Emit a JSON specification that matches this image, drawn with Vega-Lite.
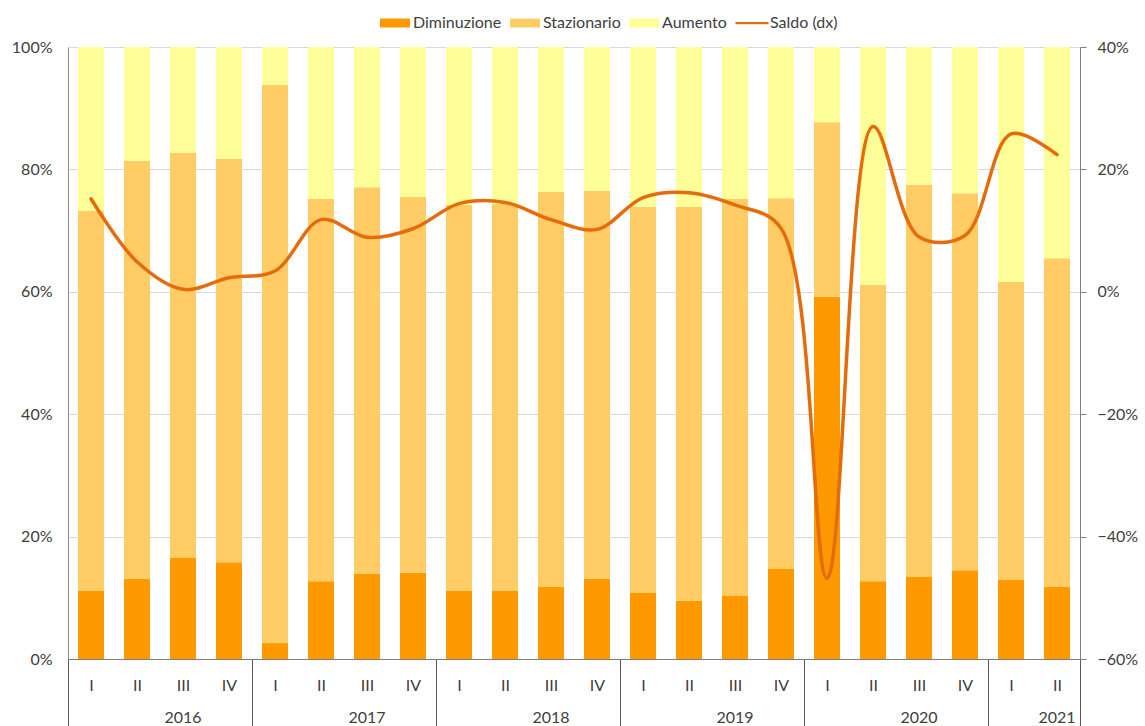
{
  "$schema": "https://vega.github.io/schema/vega-lite/v6.json",
  "autosize": {"type": "none"},
  "padding": {"left": 68, "top": 47, "right": 65, "bottom": 67},
  "width": 1012,
  "height": 612,
  "background": "white",
  "config": {
    "view": {"stroke": null},
    "font": "Lato",
    "axis": {"labelFont": "Lato", "labelFontSize": 16, "labelColor": "#404040", "titleColor": "#404040"},
    "legend": {"labelFont": "Lato", "labelFontSize": 16, "labelColor": "#404040"}
  },
  "layer": [
    {
      "data": {"values": [
      {"t": "2016 I", "serie": "Diminuzione", "v": 0.111}, {"t": "2016 I", "serie": "Stazionario", "v": 0.621}, {"t": "2016 I", "serie": "Aumento", "v": 0.268},
      {"t": "2016 II", "serie": "Diminuzione", "v": 0.131}, {"t": "2016 II", "serie": "Stazionario", "v": 0.683}, {"t": "2016 II", "serie": "Aumento", "v": 0.186},
      {"t": "2016 III", "serie": "Diminuzione", "v": 0.165}, {"t": "2016 III", "serie": "Stazionario", "v": 0.662}, {"t": "2016 III", "serie": "Aumento", "v": 0.173},
      {"t": "2016 IV", "serie": "Diminuzione", "v": 0.158}, {"t": "2016 IV", "serie": "Stazionario", "v": 0.659}, {"t": "2016 IV", "serie": "Aumento", "v": 0.183},
      {"t": "2017 I", "serie": "Diminuzione", "v": 0.026}, {"t": "2017 I", "serie": "Stazionario", "v": 0.912}, {"t": "2017 I", "serie": "Aumento", "v": 0.062},
      {"t": "2017 II", "serie": "Diminuzione", "v": 0.127}, {"t": "2017 II", "serie": "Stazionario", "v": 0.625}, {"t": "2017 II", "serie": "Aumento", "v": 0.248},
      {"t": "2017 III", "serie": "Diminuzione", "v": 0.139}, {"t": "2017 III", "serie": "Stazionario", "v": 0.632}, {"t": "2017 III", "serie": "Aumento", "v": 0.229},
      {"t": "2017 IV", "serie": "Diminuzione", "v": 0.141}, {"t": "2017 IV", "serie": "Stazionario", "v": 0.614}, {"t": "2017 IV", "serie": "Aumento", "v": 0.245},
      {"t": "2018 I", "serie": "Diminuzione", "v": 0.111}, {"t": "2018 I", "serie": "Stazionario", "v": 0.631}, {"t": "2018 I", "serie": "Aumento", "v": 0.258},
      {"t": "2018 II", "serie": "Diminuzione", "v": 0.111}, {"t": "2018 II", "serie": "Stazionario", "v": 0.633}, {"t": "2018 II", "serie": "Aumento", "v": 0.256},
      {"t": "2018 III", "serie": "Diminuzione", "v": 0.118}, {"t": "2018 III", "serie": "Stazionario", "v": 0.645}, {"t": "2018 III", "serie": "Aumento", "v": 0.237},
      {"t": "2018 IV", "serie": "Diminuzione", "v": 0.131}, {"t": "2018 IV", "serie": "Stazionario", "v": 0.634}, {"t": "2018 IV", "serie": "Aumento", "v": 0.235},
      {"t": "2019 I", "serie": "Diminuzione", "v": 0.108}, {"t": "2019 I", "serie": "Stazionario", "v": 0.631}, {"t": "2019 I", "serie": "Aumento", "v": 0.261},
      {"t": "2019 II", "serie": "Diminuzione", "v": 0.095}, {"t": "2019 II", "serie": "Stazionario", "v": 0.644}, {"t": "2019 II", "serie": "Aumento", "v": 0.261},
      {"t": "2019 III", "serie": "Diminuzione", "v": 0.103}, {"t": "2019 III", "serie": "Stazionario", "v": 0.649}, {"t": "2019 III", "serie": "Aumento", "v": 0.248},
      {"t": "2019 IV", "serie": "Diminuzione", "v": 0.147}, {"t": "2019 IV", "serie": "Stazionario", "v": 0.606}, {"t": "2019 IV", "serie": "Aumento", "v": 0.247},
      {"t": "2020 I", "serie": "Diminuzione", "v": 0.592}, {"t": "2020 I", "serie": "Stazionario", "v": 0.285}, {"t": "2020 I", "serie": "Aumento", "v": 0.123},
      {"t": "2020 II", "serie": "Diminuzione", "v": 0.127}, {"t": "2020 II", "serie": "Stazionario", "v": 0.484}, {"t": "2020 II", "serie": "Aumento", "v": 0.389},
      {"t": "2020 III", "serie": "Diminuzione", "v": 0.134}, {"t": "2020 III", "serie": "Stazionario", "v": 0.641}, {"t": "2020 III", "serie": "Aumento", "v": 0.225},
      {"t": "2020 IV", "serie": "Diminuzione", "v": 0.145}, {"t": "2020 IV", "serie": "Stazionario", "v": 0.616}, {"t": "2020 IV", "serie": "Aumento", "v": 0.239},
      {"t": "2021 I", "serie": "Diminuzione", "v": 0.129}, {"t": "2021 I", "serie": "Stazionario", "v": 0.487}, {"t": "2021 I", "serie": "Aumento", "v": 0.384},
      {"t": "2021 II", "serie": "Diminuzione", "v": 0.118}, {"t": "2021 II", "serie": "Stazionario", "v": 0.537}, {"t": "2021 II", "serie": "Aumento", "v": 0.345}
      ]},
      "transform": [
        {"calculate": "datum.serie === 'Diminuzione' ? 0 : (datum.serie === 'Stazionario' ? 1 : 2)", "as": "ord"}
      ],
      "mark": {"type": "bar"},
      "encoding": {
        "x": {
          "field": "t", "type": "ordinal",
          "scale": {"paddingInner": 0.435, "paddingOuter": 0.2175},
          "axis": {
            "title": null, "orient": "bottom",
            "tickOffset": 23,
            "labelExpr": "slice(datum.value, 5)",
            "labelAngle": 0, "labelOverlap": false, "labelOffset": -23,
            "ticks": true, "tickSize": 67, "tickColor": "#595959", "tickWidth": 1,
            "tickOpacity": {"condition": {"test": "datum.value === '2021 II'", "value": 1}, "value": 0},
            "labelPadding": -49,
            "domain": true, "domainColor": "#7f7f7f", "domainWidth": 1
          }
        },
        "y": {
          "field": "v", "type": "quantitative", "stack": "zero",
          "scale": {"domain": [0, 1]},
          "axis": {
            "title": null, "orient": "left", "values": [0, 0.2, 0.4, 0.6, 0.8, 1],
            "format": ".0%", "ticks": false, "labelPadding": 16,
            "domainColor": "#8c8c8c", "grid": true, "gridColor": "#d9d9d9", "gridWidth": 1
          }
        },
        "order": {"field": "ord", "type": "quantitative"},
        "color": {
          "field": "serie", "type": "nominal",
          "scale": {
            "domain": ["Diminuzione", "Stazionario", "Aumento", "Saldo (dx)"],
            "range": ["#ff9900", "#ffcc66", "#ffff99", "#e46c0a"]
          },
          "legend": {
            "title": null, "orient": "none", "direction": "horizontal",
            "legendX": 312, "legendY": -39,
            "symbolType": "M-1,-0.3H1V0.3H-1Z", "symbolSize": 900,
            "symbolStrokeWidth": 0, "labelOffset": 3, "columnPadding": 8,
            "encode": {
              "symbols": {
                "update": {
                  "shape": {"signal": "datum.value === 'Saldo (dx)' ? 'M-1.1,-0.075H1.1V0.075H-1.1Z' : 'M-1,-0.3H1V0.3H-1Z'"}
                }
              }
            }
          }
        }
      }
    },
    {
      "data": {"values": [
      {"t": "2016 I", "saldo": 0.152}, {"t": "2016 II", "saldo": 0.049}, {"t": "2016 III", "saldo": 0.004}, {"t": "2016 IV", "saldo": 0.023},
      {"t": "2017 I", "saldo": 0.034}, {"t": "2017 II", "saldo": 0.118}, {"t": "2017 III", "saldo": 0.089}, {"t": "2017 IV", "saldo": 0.103},
      {"t": "2018 I", "saldo": 0.144}, {"t": "2018 II", "saldo": 0.146}, {"t": "2018 III", "saldo": 0.118}, {"t": "2018 IV", "saldo": 0.102},
      {"t": "2019 I", "saldo": 0.154}, {"t": "2019 II", "saldo": 0.162}, {"t": "2019 III", "saldo": 0.142}, {"t": "2019 IV", "saldo": 0.104},
      {"t": "2020 I", "saldo": -0.468}, {"t": "2020 II", "saldo": 0.27}, {"t": "2020 III", "saldo": 0.09}, {"t": "2020 IV", "saldo": 0.092},
      {"t": "2021 I", "saldo": 0.258}, {"t": "2021 II", "saldo": 0.224}
      ]},
      "mark": {"type": "line", "interpolate": "catmull-rom", "strokeWidth": 3.5, "strokeCap": "round", "color": "#e46c0a"},
      "encoding": {
        "x": {
          "field": "t", "type": "ordinal",
          "axis": {
            "title": null, "orient": "bottom",
            "bandPosition": -0.3846,
            "labelExpr": "(slice(datum.value, 5) === 'III' || datum.value === '2021 II') ? slice(datum.value, 0, 4) : ''",
            "labelAngle": 0, "labelOverlap": false,
            "domain": false,
            "ticks": true, "tickSize": 67, "tickColor": "#595959", "tickWidth": 1,
            "tickOpacity": {"condition": {"test": "slice(datum.value, 5) === 'I'", "value": 1}, "value": 0},
            "labelPadding": -17
          }
        },
        "y": {
          "field": "saldo", "type": "quantitative",
          "scale": {"domain": [-0.6, 0.4]},
          "axis": {
            "title": null, "orient": "right", "values": [-0.6, -0.4, -0.2, 0, 0.2, 0.4],
            "format": ".0%", "ticks": true, "tickSize": 6, "tickColor": "#7f7f7f",
            "labelPadding": 11, "domainColor": "#7f7f7f", "grid": false
          }
        }
      }
    }
  ],
  "resolve": {"scale": {"y": "independent"}, "axis": {"x": "independent", "y": "independent"}}
}
